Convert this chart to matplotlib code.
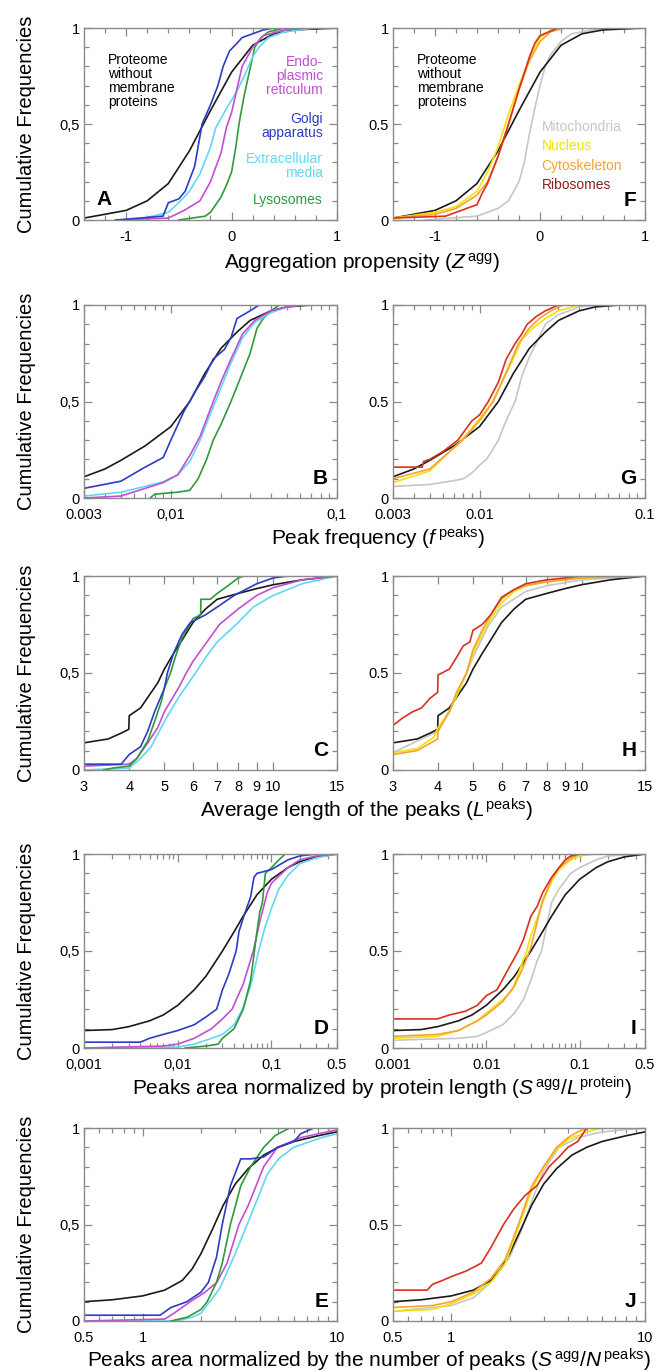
import matplotlib
matplotlib.use("Agg")
import matplotlib.pyplot as plt

plt.rcParams['font.family'] = ['Liberation Sans', 'DejaVu Sans']
plt.rcParams['mathtext.fontset'] = 'custom'
plt.rcParams['mathtext.rm'] = 'Liberation Sans'
plt.rcParams['mathtext.it'] = 'Liberation Sans:italic'

# ---------------- data (x values, cumulative frequency) ----------------
# Row 1: aggregation propensity Z^agg
prot_z_x = [-1.4, -1.2, -1.0, -0.8, -0.6, -0.4, -0.2, 0.0, 0.2, 0.4, 0.6, 1.0]
prot_z_y = [0.01, 0.03, 0.05, 0.10, 0.19, 0.36, 0.57, 0.77, 0.91, 0.97, 0.99, 1.0]
er_z_x = [-1.1, -0.6, -0.45, -0.3, -0.2, -0.1, -0.05, 0.0, 0.05, 0.1, 0.2, 0.3, 0.5, 0.7]
er_z_y = [0.0, 0.01, 0.05, 0.10, 0.20, 0.35, 0.48, 0.56, 0.68, 0.80, 0.90, 0.96, 0.99, 1.0]
golgi_z_x = [-1.1, -0.65, -0.6, -0.5, -0.44, -0.35, -0.28, -0.2, -0.13, -0.08, -0.02, 0.05, 0.1, 0.2, 0.3, 0.4]
golgi_z_y = [0.0, 0.02, 0.09, 0.11, 0.15, 0.28, 0.50, 0.60, 0.70, 0.80, 0.88, 0.92, 0.95, 0.97, 0.99, 1.0]
ec_z_x = [-0.9, -0.6, -0.5, -0.4, -0.3, -0.2, -0.15, -0.05, 0.05, 0.12, 0.2, 0.26, 0.35, 0.5, 0.8]
ec_z_y = [0.0, 0.04, 0.09, 0.15, 0.24, 0.38, 0.48, 0.58, 0.67, 0.75, 0.85, 0.90, 0.95, 0.98, 1.0]
lys_z_x = [-0.5, -0.25, -0.2, -0.15, -0.1, -0.05, 0.0, 0.04, 0.07, 0.12, 0.18, 0.22, 0.28, 0.35, 0.5]
lys_z_y = [0.0, 0.02, 0.04, 0.08, 0.12, 0.18, 0.25, 0.38, 0.50, 0.65, 0.80, 0.90, 0.95, 0.98, 1.0]
mito_z_x = [-1.1, -0.6, -0.4, -0.3, -0.2, -0.15, -0.1, -0.05, 0.0, 0.05, 0.1, 0.2, 0.3, 0.5, 0.8]
mito_z_y = [0.0, 0.02, 0.06, 0.10, 0.20, 0.30, 0.45, 0.58, 0.70, 0.80, 0.86, 0.93, 0.97, 0.99, 1.0]
nuc_z_x = [-1.4, -1.0, -0.8, -0.6, -0.5, -0.4, -0.3, -0.2, -0.1, -0.05, 0.0, 0.1, 0.2]
nuc_z_y = [0.01, 0.04, 0.07, 0.15, 0.25, 0.38, 0.55, 0.70, 0.84, 0.90, 0.95, 0.99, 1.0]
cyto_z_x = [-1.4, -1.0, -0.8, -0.6, -0.5, -0.4, -0.3, -0.2, -0.1, 0.0, 0.1, 0.23]
cyto_z_y = [0.01, 0.03, 0.06, 0.13, 0.20, 0.33, 0.50, 0.68, 0.83, 0.93, 0.98, 1.0]
ribo_z_x = [-1.4, -0.9, -0.7, -0.6, -0.55, -0.5, -0.4, -0.3, -0.2, -0.1, -0.05, 0.0, 0.17]
ribo_z_y = [0.01, 0.02, 0.06, 0.08, 0.14, 0.19, 0.33, 0.50, 0.68, 0.85, 0.92, 0.96, 1.0]

# Row 2: peak frequency f^peaks
prot_f_x = [0.003, 0.004, 0.005, 0.007, 0.01, 0.013, 0.016, 0.02, 0.025, 0.03, 0.04, 0.05, 0.07, 0.1]
prot_f_y = [0.11, 0.15, 0.195, 0.27, 0.37, 0.50, 0.645, 0.775, 0.86, 0.92, 0.97, 0.99, 1.0, 1.0]
golgi_f_x = [0.003, 0.005, 0.007, 0.009, 0.01, 0.012, 0.014, 0.016, 0.018, 0.021, 0.023, 0.025, 0.03, 0.034]
golgi_f_y = [0.05, 0.087, 0.16, 0.21, 0.30, 0.45, 0.55, 0.63, 0.72, 0.77, 0.83, 0.93, 0.97, 1.0]
er_f_x = [0.003, 0.005, 0.007, 0.009, 0.011, 0.013, 0.015, 0.018, 0.02, 0.023, 0.027, 0.032, 0.04, 0.05, 0.06]
er_f_y = [0.0, 0.01, 0.05, 0.08, 0.12, 0.22, 0.32, 0.50, 0.60, 0.72, 0.85, 0.92, 0.97, 0.99, 1.0]
ec_f_x = [0.003, 0.005, 0.007, 0.009, 0.011, 0.013, 0.015, 0.017, 0.02, 0.023, 0.027, 0.032, 0.04, 0.05, 0.06]
ec_f_y = [0.01, 0.03, 0.06, 0.085, 0.12, 0.19, 0.30, 0.42, 0.57, 0.70, 0.83, 0.91, 0.96, 0.99, 1.0]
lys_f_x = [0.0075, 0.008, 0.011, 0.013, 0.0146, 0.0164, 0.018, 0.02, 0.023, 0.027, 0.03, 0.033, 0.036, 0.04, 0.045]
lys_f_y = [0.0, 0.02, 0.03, 0.04, 0.10, 0.20, 0.30, 0.38, 0.50, 0.65, 0.75, 0.88, 0.93, 0.97, 1.0]
mito_f_x = [0.003, 0.005, 0.007, 0.008, 0.009, 0.01, 0.011, 0.012, 0.013, 0.014, 0.015, 0.0164, 0.018, 0.02, 0.022, 0.025, 0.03, 0.04, 0.05]
mito_f_y = [0.06, 0.07, 0.09, 0.10, 0.13, 0.17, 0.20, 0.25, 0.30, 0.37, 0.43, 0.50, 0.63, 0.73, 0.80, 0.90, 0.95, 0.99, 1.0]
ribo_f_x = [0.003, 0.0045, 0.0046, 0.005, 0.006, 0.0074, 0.009, 0.01, 0.0113, 0.013, 0.0145, 0.0164, 0.018, 0.0194, 0.022, 0.025, 0.03]
ribo_f_y = [0.16, 0.16, 0.19, 0.20, 0.24, 0.30, 0.40, 0.43, 0.50, 0.60, 0.72, 0.80, 0.85, 0.90, 0.94, 0.97, 1.0]
cyto_f_x = [0.003, 0.005, 0.0079, 0.01, 0.0121, 0.015, 0.0172, 0.02, 0.023, 0.027, 0.032]
cyto_f_y = [0.10, 0.15, 0.30, 0.40, 0.50, 0.68, 0.80, 0.88, 0.93, 0.97, 1.0]
nuc_f_x = [0.003, 0.005, 0.0078, 0.01, 0.012, 0.015, 0.018, 0.021, 0.025, 0.03, 0.04]
nuc_f_y = [0.08, 0.14, 0.30, 0.41, 0.50, 0.67, 0.82, 0.88, 0.93, 0.97, 1.0]

# Row 3: average peak length L^peaks
prot_L_x = [3, 3.5, 3.8, 3.99, 4.0, 4.3, 4.6, 4.8, 5.0, 5.3, 5.6, 6, 6.5, 7, 8, 9, 10, 12, 15]
prot_L_y = [0.14, 0.16, 0.19, 0.21, 0.28, 0.32, 0.40, 0.45, 0.52, 0.60, 0.67, 0.76, 0.83, 0.88, 0.91, 0.935, 0.955, 0.98, 1.0]
golgi_L_x = [3, 3.8, 4.0, 4.3, 4.5, 4.7, 5.0, 5.1, 5.3, 5.6, 5.9, 6.5, 7, 7.8, 9, 10, 11]
golgi_L_y = [0.03, 0.03, 0.08, 0.12, 0.20, 0.30, 0.42, 0.50, 0.60, 0.70, 0.76, 0.80, 0.84, 0.90, 0.96, 0.99, 1.0]
lys_L_x = [3.4, 3.6, 4.0, 4.2, 4.5, 4.7, 4.9, 5.0, 5.2, 5.4, 5.6, 6, 6.3, 6.31, 6.7, 7, 7.5, 8, 8.3]
lys_L_y = [0.0, 0.01, 0.02, 0.06, 0.15, 0.25, 0.35, 0.42, 0.50, 0.60, 0.68, 0.78, 0.80, 0.88, 0.88, 0.91, 0.95, 0.99, 1.0]
er_L_x = [3, 4.0, 4.2, 4.5, 4.8, 5.0, 5.5, 5.75, 6, 6.5, 7.1, 8, 9, 10, 12, 15]
er_L_y = [0.02, 0.03, 0.06, 0.14, 0.22, 0.30, 0.43, 0.50, 0.56, 0.65, 0.75, 0.83, 0.90, 0.94, 0.98, 1.0]
ec_L_x = [3, 4.0, 4.3, 4.6, 5.0, 5.5, 6.1, 6.5, 7, 8, 8.8, 10, 12, 15]
ec_L_y = [0.0, 0.01, 0.06, 0.12, 0.25, 0.38, 0.50, 0.58, 0.66, 0.76, 0.84, 0.90, 0.96, 1.0]
ribo_L_x = [3, 3.2, 3.4, 3.6, 3.8, 3.99, 4.0, 4.3, 4.5, 4.7, 4.9, 5.0, 5.3, 5.6, 6, 6.5, 7, 8, 9, 10]
ribo_L_y = [0.23, 0.27, 0.30, 0.32, 0.37, 0.40, 0.49, 0.52, 0.58, 0.64, 0.66, 0.72, 0.75, 0.80, 0.89, 0.93, 0.96, 0.98, 0.99, 1.0]
cyto_L_x = [3, 3.5, 3.99, 4.0, 4.3, 4.5, 4.8, 5.0, 5.3, 5.6, 6, 6.5, 7, 8, 10, 15]
cyto_L_y = [0.08, 0.10, 0.16, 0.20, 0.30, 0.40, 0.50, 0.62, 0.72, 0.80, 0.88, 0.93, 0.95, 0.97, 0.99, 1.0]
nuc_L_x = [3, 3.5, 3.9, 4.0, 4.3, 4.5, 4.8, 5.0, 5.3, 5.6, 6, 6.5, 7, 8, 10, 15]
nuc_L_y = [0.09, 0.11, 0.17, 0.22, 0.30, 0.38, 0.50, 0.60, 0.70, 0.78, 0.86, 0.92, 0.95, 0.97, 0.99, 1.0]
mito_L_x = [3, 4.0, 4.5, 5, 5.5, 6, 7, 8, 10, 15]
mito_L_y = [0.09, 0.20, 0.38, 0.58, 0.74, 0.84, 0.92, 0.95, 0.98, 1.0]

# Row 4: peaks area / protein length
prot_SL_x = [0.001, 0.002, 0.003, 0.005, 0.007, 0.01, 0.015, 0.02, 0.03, 0.04, 0.05, 0.07, 0.1, 0.15, 0.2, 0.3, 0.5]
prot_SL_y = [0.09, 0.095, 0.11, 0.14, 0.17, 0.22, 0.30, 0.37, 0.50, 0.60, 0.68, 0.79, 0.87, 0.93, 0.96, 0.985, 1.0]
golgi_SL_x = [0.001, 0.004, 0.005, 0.007, 0.01, 0.015, 0.02, 0.026, 0.03, 0.035, 0.042, 0.045, 0.05, 0.06, 0.065, 0.07, 0.1, 0.15, 0.2, 0.3]
golgi_SL_y = [0.03, 0.03, 0.05, 0.07, 0.09, 0.12, 0.16, 0.20, 0.30, 0.38, 0.50, 0.60, 0.67, 0.78, 0.88, 0.90, 0.92, 0.97, 0.99, 1.0]
er_SL_x = [0.001, 0.007, 0.01, 0.015, 0.023, 0.03, 0.038, 0.05, 0.064, 0.075, 0.09, 0.1, 0.15, 0.2, 0.3, 0.5]
er_SL_y = [0.0, 0.01, 0.02, 0.05, 0.10, 0.15, 0.20, 0.33, 0.50, 0.65, 0.80, 0.85, 0.93, 0.97, 0.99, 1.0]
ec_SL_x = [0.001, 0.01, 0.015, 0.02, 0.03, 0.04, 0.049, 0.06, 0.073, 0.085, 0.1, 0.12, 0.15, 0.2, 0.3, 0.5]
ec_SL_y = [0.0, 0.005, 0.02, 0.04, 0.07, 0.12, 0.20, 0.32, 0.50, 0.62, 0.72, 0.82, 0.89, 0.95, 0.98, 1.0]
lys_SL_x = [0.012, 0.02, 0.027, 0.03, 0.04, 0.05, 0.06, 0.065, 0.07, 0.075, 0.08, 0.086, 0.1, 0.12, 0.14]
lys_SL_y = [0.0, 0.01, 0.02, 0.05, 0.10, 0.20, 0.35, 0.48, 0.60, 0.70, 0.75, 0.90, 0.93, 0.97, 1.0]
mito_SL_x = [0.001, 0.005, 0.008, 0.01, 0.015, 0.02, 0.025, 0.03, 0.035, 0.039, 0.045, 0.05, 0.06, 0.08, 0.1, 0.15, 0.2, 0.5]
mito_SL_y = [0.04, 0.05, 0.06, 0.08, 0.12, 0.18, 0.25, 0.35, 0.45, 0.50, 0.65, 0.75, 0.82, 0.90, 0.93, 0.97, 0.99, 1.0]
ribo_SL_x = [0.001, 0.003, 0.004, 0.006, 0.008, 0.01, 0.013, 0.016, 0.022, 0.025, 0.03, 0.035, 0.04, 0.05, 0.06, 0.07, 0.08, 0.1]
ribo_SL_y = [0.15, 0.15, 0.17, 0.19, 0.22, 0.27, 0.30, 0.38, 0.50, 0.56, 0.68, 0.73, 0.80, 0.88, 0.93, 0.97, 0.99, 1.0]
cyto_SL_x = [0.001, 0.003, 0.005, 0.008, 0.01, 0.015, 0.02, 0.025, 0.03, 0.035, 0.04, 0.05, 0.06, 0.08, 0.1]
cyto_SL_y = [0.06, 0.07, 0.09, 0.14, 0.17, 0.24, 0.32, 0.42, 0.52, 0.65, 0.76, 0.87, 0.93, 0.98, 1.0]
nuc_SL_x = [0.001, 0.003, 0.005, 0.008, 0.01, 0.015, 0.019, 0.027, 0.03, 0.035, 0.04, 0.05, 0.06, 0.08, 0.1, 0.15]
nuc_SL_y = [0.05, 0.06, 0.09, 0.14, 0.18, 0.25, 0.30, 0.50, 0.58, 0.67, 0.75, 0.86, 0.92, 0.97, 0.99, 1.0]

# Row 5: peaks area / number of peaks
prot_SN_x = [0.5, 0.7, 1.0, 1.3, 1.6, 1.8, 2.0, 2.3, 2.6, 3.0, 3.5, 4.2, 5.0, 6.0, 8.0, 10]
prot_SN_y = [0.10, 0.11, 0.13, 0.16, 0.21, 0.27, 0.35, 0.48, 0.60, 0.71, 0.79, 0.86, 0.90, 0.93, 0.96, 0.98]
golgi_SN_x = [0.5, 1.23, 1.4, 1.69, 2.0, 2.18, 2.4, 2.57, 2.83, 3.2, 3.6, 4.2, 4.94, 6.0, 6.5, 7.6, 10]
golgi_SN_y = [0.03, 0.03, 0.07, 0.10, 0.15, 0.20, 0.33, 0.50, 0.70, 0.84, 0.84, 0.85, 0.90, 0.93, 0.97, 1.0, 1.0]
er_SN_x = [0.5, 1.3, 1.45, 1.76, 2.1, 2.41, 2.72, 3.13, 3.5, 4.2, 4.94, 6.5, 8, 10]
er_SN_y = [0.0, 0.01, 0.04, 0.10, 0.15, 0.20, 0.30, 0.50, 0.60, 0.80, 0.90, 0.95, 0.97, 0.99]
ec_SN_x = [0.5, 1.5, 1.8, 2.0, 2.5, 3.0, 3.45, 4.0, 4.38, 5.0, 6.0, 8.3, 10]
ec_SN_y = [0.0, 0.0, 0.02, 0.04, 0.17, 0.35, 0.50, 0.66, 0.76, 0.84, 0.90, 0.95, 0.97]
lys_SN_x = [1.4, 1.7, 2.0, 2.15, 2.4, 2.57, 2.83, 3.2, 3.6, 4.2, 4.8, 5.7]
lys_SN_y = [0.0, 0.02, 0.06, 0.10, 0.20, 0.30, 0.50, 0.70, 0.80, 0.90, 0.96, 1.0]
ribo_SN_x = [0.5, 0.75, 0.8, 0.9, 1.0, 1.2, 1.43, 1.6, 1.86, 2.1, 2.4, 2.76, 3.2, 3.6, 4.0, 4.5, 5.0, 10]
ribo_SN_y = [0.16, 0.16, 0.19, 0.21, 0.23, 0.26, 0.30, 0.38, 0.50, 0.58, 0.65, 0.70, 0.80, 0.85, 0.90, 0.93, 1.0, 1.0]
cyto_SN_x = [0.5, 0.8, 1.0, 1.3, 1.6, 1.9, 2.22, 2.6, 3.0, 3.5, 4.0, 4.5, 5.0, 10]
cyto_SN_y = [0.07, 0.08, 0.10, 0.15, 0.22, 0.32, 0.50, 0.70, 0.80, 0.90, 0.95, 0.98, 1.0, 1.0]
nuc_SN_x = [0.5, 0.8, 1.0, 1.3, 1.6, 1.9, 2.25, 2.6, 3.0, 3.5, 4.0, 5.0, 6.0, 10]
nuc_SN_y = [0.05, 0.06, 0.09, 0.14, 0.20, 0.30, 0.50, 0.68, 0.80, 0.89, 0.94, 0.98, 1.0, 1.0]
mito_SN_x = [0.5, 1.0, 1.3, 1.6, 2.0, 2.3, 2.6, 3.0, 3.6, 4.5, 6.0, 10]
mito_SN_y = [0.05, 0.08, 0.12, 0.20, 0.33, 0.47, 0.62, 0.78, 0.90, 0.95, 0.98, 1.0]

# labels
row_xlabels = [
    r"Aggregation propensity ($Z^{\,\mathrm{agg}}$)",
    r"Peak frequency ($f^{\,\mathrm{peaks}}$)",
    r"Average length of the peaks ($L^{\mathrm{peaks}}$)",
    r"Peaks area normalized by protein length ($S^{\,\mathrm{agg}}/L^{\mathrm{protein}}$)",
    r"Peaks area normalized by the number of peaks ($S^{\,\mathrm{agg}}/N^{\,\mathrm{peaks}}$)",
]
left_letters = ["A", "B", "C", "D", "E"]
right_letters = ["F", "G", "H", "I", "J"]

# ---------------- styling ----------------
C_BLACK = '#1a1a1a'
C_ER = '#c24fd2'
C_GOLGI = '#2d3cc4'
C_EC = '#62d8f0'
C_LYS = '#2e9a3c'
C_MITO = '#c6c6c6'
C_NUC = '#f3e200'
C_CYTO = '#f6a232'
C_RIBO = '#d8301e'
FRAME = '#8a8a8a'

W, H = 666, 1372
fig = plt.figure(figsize=(W / 100, H / 100), dpi=100)

rows_px = [(28, 220), (305, 498), (576, 770), (854, 1048), (1128, 1321)]
left_px = (84, 337)
right_px = (393, 645)
xlabel_base_px = [269, 546, 818, 1096, 1367]
xlabel_cx_px = [362, 378, 366, 382, 369]


def make_ax(xpx, ypx):
    x0, x1 = xpx
    t, b = ypx
    return fig.add_axes([x0 / W, 1 - b / H, (x1 - x0) / W, (b - t) / H])


def style(ax, ylabels):
    for s in ax.spines.values():
        s.set_color(FRAME)
        s.set_linewidth(1.0)
    ax.set_ylim(0, 1)
    ax.set_yticks([0, 0.5, 1])
    ax.set_yticklabels(ylabels)
    ax.set_yticks([i / 10 for i in range(1, 10) if i != 5], minor=True)
    ax.tick_params(which='both', direction='in', top=True, right=True,
                   color=FRAME, labelsize=10.5, width=0.9)
    ax.tick_params(which='major', length=6)
    ax.tick_params(which='minor', length=3.5)
    ax.tick_params(axis='x', which='major', pad=7)
    ax.tick_params(axis='y', which='major', pad=3)


def curves(ax, series):
    for xs, ys, c in series:
        ax.plot(xs, ys, color=c, lw=1.2, solid_joinstyle='round')


left_series = [
    [(prot_z_x, prot_z_y, C_BLACK), (lys_z_x, lys_z_y, C_LYS), (ec_z_x, ec_z_y, C_EC),
     (er_z_x, er_z_y, C_ER), (golgi_z_x, golgi_z_y, C_GOLGI)],
    [(prot_f_x, prot_f_y, C_BLACK), (lys_f_x, lys_f_y, C_LYS), (ec_f_x, ec_f_y, C_EC),
     (er_f_x, er_f_y, C_ER), (golgi_f_x, golgi_f_y, C_GOLGI)],
    [(prot_L_x, prot_L_y, C_BLACK), (ec_L_x, ec_L_y, C_EC), (er_L_x, er_L_y, C_ER),
     (lys_L_x, lys_L_y, C_LYS), (golgi_L_x, golgi_L_y, C_GOLGI)],
    [(prot_SL_x, prot_SL_y, C_BLACK), (ec_SL_x, ec_SL_y, C_EC), (er_SL_x, er_SL_y, C_ER),
     (lys_SL_x, lys_SL_y, C_LYS), (golgi_SL_x, golgi_SL_y, C_GOLGI)],
    [(prot_SN_x, prot_SN_y, C_BLACK), (ec_SN_x, ec_SN_y, C_EC), (er_SN_x, er_SN_y, C_ER),
     (lys_SN_x, lys_SN_y, C_LYS), (golgi_SN_x, golgi_SN_y, C_GOLGI)],
]
right_series = [
    [(mito_z_x, mito_z_y, C_MITO), (prot_z_x, prot_z_y, C_BLACK), (nuc_z_x, nuc_z_y, C_NUC),
     (cyto_z_x, cyto_z_y, C_CYTO), (ribo_z_x, ribo_z_y, C_RIBO)],
    [(mito_f_x, mito_f_y, C_MITO), (prot_f_x, prot_f_y, C_BLACK), (nuc_f_x, nuc_f_y, C_NUC),
     (cyto_f_x, cyto_f_y, C_CYTO), (ribo_f_x, ribo_f_y, C_RIBO)],
    [(mito_L_x, mito_L_y, C_MITO), (prot_L_x, prot_L_y, C_BLACK), (nuc_L_x, nuc_L_y, C_NUC),
     (cyto_L_x, cyto_L_y, C_CYTO), (ribo_L_x, ribo_L_y, C_RIBO)],
    [(mito_SL_x, mito_SL_y, C_MITO), (prot_SL_x, prot_SL_y, C_BLACK), (nuc_SL_x, nuc_SL_y, C_NUC),
     (cyto_SL_x, cyto_SL_y, C_CYTO), (ribo_SL_x, ribo_SL_y, C_RIBO)],
    [(mito_SN_x, mito_SN_y, C_MITO), (prot_SN_x, prot_SN_y, C_BLACK), (nuc_SN_x, nuc_SN_y, C_NUC),
     (cyto_SN_x, cyto_SN_y, C_CYTO), (ribo_SN_x, ribo_SN_y, C_RIBO)],
]


def set_x(ax, r, comma):
    if r == 0:
        ax.set_xlim(-1.4, 1)
        ax.set_xticks([-1, 0, 1])
        ax.set_xticklabels(["-1", "0", "1"])
        ax.set_xticks([-1.2, -0.8, -0.6, -0.4, -0.2, 0.2, 0.4, 0.6, 0.8], minor=True)
    elif r == 1:
        ax.set_xscale('log')
        ax.set_xlim(0.003, 0.1)
        ax.set_xticks([0.003, 0.01, 0.1])
        ax.set_xticklabels(["0.003", "0,01" if comma else "0.01", "0,1" if comma else "0.1"])
        ax.set_xticks([0.004, 0.005, 0.006, 0.007, 0.008, 0.009,
                       0.02, 0.03, 0.04, 0.05, 0.06, 0.07, 0.08, 0.09], minor=True)
        ax.set_xticklabels([], minor=True)
    elif r == 2:
        ax.set_xscale('log')
        ax.set_xlim(3, 15)
        ax.set_xticks([3, 4, 5, 6, 7, 8, 9, 10, 15])
        ax.set_xticklabels(["3", "4", "5", "6", "7", "8", "9", "10", "15"])
        ax.set_xticks([], minor=True)
    elif r == 3:
        ax.set_xscale('log')
        ax.set_xlim(0.001, 0.5)
        ax.set_xticks([0.001, 0.01, 0.1, 0.5])
        if comma:
            ax.set_xticklabels(["0,001", "0,01", "0,1", "0.5"])
        else:
            ax.set_xticklabels(["0.001", "0.01", "0.1", "0.5"])
        ax.set_xticks([0.002, 0.003, 0.004, 0.005, 0.006, 0.007, 0.008, 0.009,
                       0.02, 0.03, 0.04, 0.05, 0.06, 0.07, 0.08, 0.09,
                       0.2, 0.3, 0.4], minor=True)
        ax.set_xticklabels([], minor=True)
    else:
        ax.set_xscale('log')
        ax.set_xlim(0.5, 10)
        ax.set_xticks([0.5, 1, 10])
        ax.set_xticklabels(["0.5", "1", "10"])
        ax.set_xticks([0.6, 0.7, 0.8, 0.9, 2, 3, 4, 5, 6, 7, 8, 9], minor=True)
        ax.set_xticklabels([], minor=True)


LETTER_FS = 15
for r in range(5):
    axL = make_ax(left_px, rows_px[r])
    axR = make_ax(right_px, rows_px[r])
    curves(axL, left_series[r])
    curves(axR, right_series[r])
    style(axL, ["0", "0,5", "1"])
    style(axR, ["0", "0.5", "1"])
    set_x(axL, r, True)
    set_x(axR, r, False)
    # panel letters
    if r == 0:
        axL.text(0.05, 0.055, left_letters[r], transform=axL.transAxes,
                 fontsize=LETTER_FS, fontweight='bold', ha='left', va='bottom')
    else:
        axL.text(0.965, 0.05, left_letters[r], transform=axL.transAxes,
                 fontsize=LETTER_FS, fontweight='bold', ha='right', va='bottom')
    axR.text(0.965, 0.05, right_letters[r], transform=axR.transAxes,
             fontsize=LETTER_FS, fontweight='bold', ha='right', va='bottom')
    # y label
    cy = 1 - (rows_px[r][0] + rows_px[r][1]) / 2 / H
    fig.text(27 / W, cy, "Cumulative Frequencies", rotation=90,
             ha='center', va='center', fontsize=14.5)
    fig.text(xlabel_cx_px[r] / W, 1 - xlabel_base_px[r] / H, row_xlabels[r],
             ha='center', va='baseline', fontsize=15)

    if r == 0:
        axL.text(0.095, 0.87, "Proteome\nwithout\nmembrane\nproteins", transform=axL.transAxes,
                 fontsize=10, ha='left', va='top', linespacing=1.0)
        axL.text(0.945, 0.86, "Endo-\nplasmic\nreticulum", transform=axL.transAxes,
                 fontsize=10, ha='right', va='top', color=C_ER, linespacing=1.0)
        axL.text(0.945, 0.565, "Golgi\napparatus", transform=axL.transAxes,
                 fontsize=10, ha='right', va='top', color=C_GOLGI, linespacing=1.0)
        axL.text(0.945, 0.355, "Extracellular\nmedia", transform=axL.transAxes,
                 fontsize=10, ha='right', va='top', color=C_EC, linespacing=1.0)
        axL.text(0.945, 0.105, "Lysosomes", transform=axL.transAxes,
                 fontsize=10, ha='right', va='center', color=C_LYS)
        axR.text(0.095, 0.87, "Proteome\nwithout\nmembrane\nproteins", transform=axR.transAxes,
                 fontsize=10, ha='left', va='top', linespacing=1.0)
        axR.text(0.59, 0.485, "Mitochondria", transform=axR.transAxes,
                 fontsize=10, ha='left', va='center', color=C_MITO)
        axR.text(0.59, 0.385, "Nucleus", transform=axR.transAxes,
                 fontsize=10, ha='left', va='center', color=C_NUC)
        axR.text(0.59, 0.28, "Cytoskeleton", transform=axR.transAxes,
                 fontsize=10, ha='left', va='center', color=C_CYTO)
        axR.text(0.59, 0.18, "Ribosomes", transform=axR.transAxes,
                 fontsize=10, ha='left', va='center', color='#8e2020')

fig.savefig("out.png", dpi=100)
